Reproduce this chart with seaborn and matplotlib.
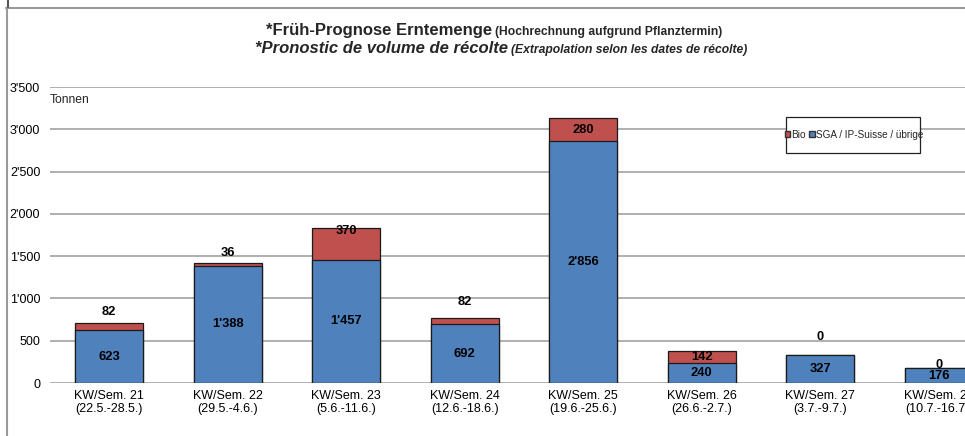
import matplotlib
matplotlib.use("Agg")
import matplotlib.pyplot as plt
import seaborn as sns
import pandas as pd
from matplotlib.patches import Patch, Rectangle
from matplotlib.lines import Line2D

# data
weeks = ["KW/Sem. 21", "KW/Sem. 22", "KW/Sem. 23", "KW/Sem. 24",
         "KW/Sem. 25", "KW/Sem. 26", "KW/Sem. 27", "KW/Sem. 28"]
periods = ["(22.5.-28.5.)", "(29.5.-4.6.)", "(5.6.-11.6.)", "(12.6.-18.6.)",
           "(19.6.-25.6.)", "(26.6.-2.7.)", "(3.7.-9.7.)", "(10.7.-16.7.)"]
sga = [623, 1388, 1457, 692, 2856, 240, 327, 176]
bio = [82, 36, 370, 82, 280, 142, 0, 0]
yticks = [0, 500, 1000, 1500, 2000, 2500, 3000, 3500]

# manual label shifts (pixels above segment centre), like in the original sheet
bio_shift = [15, 11, 13, 19, 0, 0, 18, 3]

BLUE = "#4F81BD"
RED = "#C0504D"
W, H = 965, 436


def fmt(v):
    return f"{v:,}".replace(",", "'")


df = pd.DataFrame({
    "label": [f"{w}\n{p}" for w, p in zip(weeks, periods)],
    "sga": sga,
    "bio": bio,
})
df["total"] = df["sga"] + df["bio"]

sns.set_theme(style="white")
plt.rcParams["font.family"] = ["Liberation Sans", "DejaVu Sans"]

fig = plt.figure(figsize=(W / 100, H / 100), dpi=100)
fig.patch.set_facecolor("white")
ax = fig.add_axes([50 / W, 53 / H, 948 / W, 296 / H])

# stacked bars: total (red) underneath, SGA (blue) on top
sns.barplot(data=df, x="label", y="total", color=RED, saturation=1, width=0.57,
            edgecolor="#1a1a1a", linewidth=0.9, ax=ax)
sns.barplot(data=df, x="label", y="sga", color=BLUE, saturation=1, width=0.57,
            edgecolor="#1a1a1a", linewidth=0.9, ax=ax)

ax.set_xlim(-0.5, 7.5)
ax.set_ylim(0, 3500)
ax.set_yticks(yticks)
ax.set_yticklabels([fmt(v) for v in yticks])
ax.yaxis.grid(True, color="#9a9a9a", linewidth=1.1)
ax.set_axisbelow(True)
ax.set_xlabel("")
ax.set_ylabel("")
for s in ax.spines.values():
    s.set_visible(False)
ax.tick_params(axis="y", length=0, pad=7, labelsize=9, labelcolor="black")
ax.tick_params(axis="x", length=0, pad=5, labelsize=9, labelcolor="black")
for t in ax.get_xticklabels():
    t.set_linespacing(1.1)

# value labels
for i in range(len(sga)):
    ax.text(i, sga[i] / 2, fmt(sga[i]), ha="center", va="center",
            fontsize=9.3, fontweight="bold", color="black")
    ax.annotate(fmt(bio[i]), (i, sga[i] + bio[i] / 2), xytext=(0, bio_shift[i]),
                textcoords="offset pixels", ha="center", va="center",
                fontsize=9.3, fontweight="bold", color="black")

fig.text(50 / W, 1 - 100 / H, "Tonnen", fontsize=8.7, va="center")

# title, two sizes on each line
renderer = fig.canvas.get_renderer()


def title_line(big, small, base_y, xc, style):
    t1 = fig.text(0, 1 - base_y / H, big, fontsize=12, fontweight="bold",
                  style=style, va="baseline")
    t2 = fig.text(0, 1 - base_y / H, small, fontsize=8.7, fontweight="bold",
                  style=style, va="baseline")
    w1 = t1.get_window_extent(renderer).width
    w2 = t2.get_window_extent(renderer).width
    gap = 3
    x0 = xc - (w1 + gap + w2) / 2
    t1.set_x(x0 / W)
    t2.set_x((x0 + w1 + gap) / W)


title_line("*Früh-Prognose Erntemenge", "(Hochrechnung aufgrund Pflanztermin)",
           35, 494, "normal")
title_line("*Pronostic de volume de récolte",
           "(Extrapolation selon les dates de récolte)", 53, 501, "italic")

# legend box
fig.add_artist(Rectangle((786 / W, 1 - 153 / H), 134 / W, 36 / H,
                         transform=fig.transFigure, facecolor="white",
                         edgecolor="#222222", linewidth=0.9, zorder=3))
handles = [Patch(facecolor=RED, edgecolor="#333333", label="Bio"),
           Patch(facecolor=BLUE, edgecolor="#333333", label="SGA / IP-Suisse / übrige")]
leg = fig.legend(handles=handles, loc="center", bbox_to_anchor=(854 / W, 1 - 135 / H),
                 ncol=2, fontsize=7.2, frameon=False, handlelength=0.55,
                 handleheight=0.55, handletextpad=0.15, columnspacing=0.3,
                 borderpad=0)
leg.set_zorder(4)

# sheet frame lines
fig.add_artist(Line2D([7 / W, 7 / W], [0, 1 - 8 / H], transform=fig.transFigure,
                      color="#9a9a9a", linewidth=1.5))
fig.add_artist(Line2D([6 / W, 1], [1 - 8 / H, 1 - 8 / H], transform=fig.transFigure,
                      color="#9a9a9a", linewidth=1.5))
fig.add_artist(Line2D([8 / W, 8 / W], [1 - 7 / H, 1], transform=fig.transFigure,
                      color="#555555", linewidth=1.5))

fig.savefig("out.png", dpi=100)
